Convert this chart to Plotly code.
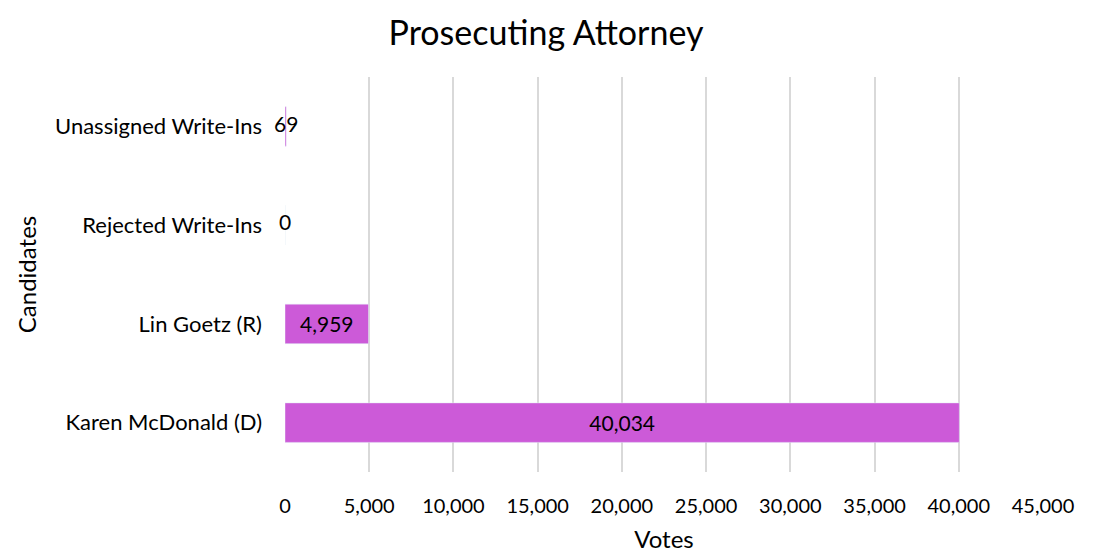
import plotly.graph_objects as go

candidates = ["Karen McDonald (D)", "Lin Goetz (R)", "Rejected Write-Ins", "Unassigned Write-Ins"]
votes = [40034, 4959, 0, 69]
tick_vals = [0, 5000, 10000, 15000, 20000, 25000, 30000, 35000, 40000, 45000]

FONT = "Lato"
LBL = 21
labels = [f"{v:,}" for v in votes]
SMALL = 1000  # bars too short to hold their label get it centred on the bar end

# the page body has an 8px margin, so the figure is sized/offset to compensate
W, H, OFF = 1099 - 8, 558 - 8, 8

fig = go.Figure(go.Bar(
    y=candidates, x=votes, orientation="h",
    marker=dict(color="#CC5AD8"),
    text=[t if v >= SMALL else "" for t, v in zip(labels, votes)],
    textposition="inside",
    insidetextanchor="middle",
    textfont=dict(color="black", size=LBL, family=FONT),
    insidetextfont=dict(color="black", size=LBL, family=FONT),
    cliponaxis=False,
    hoverinfo="x+y",
))
small_y = [c for c, v in zip(candidates, votes) if v < SMALL]
small_x = [v for v in votes if v < SMALL]
small_t = [t for t, v in zip(labels, votes) if v < SMALL]
fig.add_trace(go.Scatter(
    y=small_y, x=small_x, mode="text", text=small_t, textposition="middle center",
    textfont=dict(color="black", size=LBL, family=FONT), cliponaxis=False,
    hoverinfo="skip",
))
fig.update_layout(
    width=W, height=H,
    margin=dict(l=285 - OFF, r=56, t=77 - OFF, b=86),
    paper_bgcolor="white", plot_bgcolor="white",
    bargap=0.6,
    font=dict(family=FONT, color="black", size=LBL),
    title=dict(text="Prosecuting Attorney", x=(546 - OFF) / W, xanchor="center",
               y=1 - (33 - OFF) / H, yanchor="middle",
               font=dict(size=34, family=FONT, color="black")),
    showlegend=False,
)
fig.update_xaxes(range=[0, 45000], tickvals=tick_vals, tickformat=",", showgrid=True,
                 gridcolor="#D9D9D9", gridwidth=1.5, zeroline=False, showline=False,
                 ticks="", ticklabelstandoff=20, automargin=False,
                 title=dict(text="Votes", font=dict(size=24, family=FONT), standoff=15),
                 tickfont=dict(size=20, family=FONT))
fig.update_yaxes(showgrid=False, zeroline=False, showline=False, ticks="",
                 ticklabelstandoff=22, automargin=False,
                 title=dict(text="Candidates", font=dict(size=24, family=FONT), standoff=11),
                 tickfont=dict(size=22, family=FONT))
fig.write_html("out.html")
